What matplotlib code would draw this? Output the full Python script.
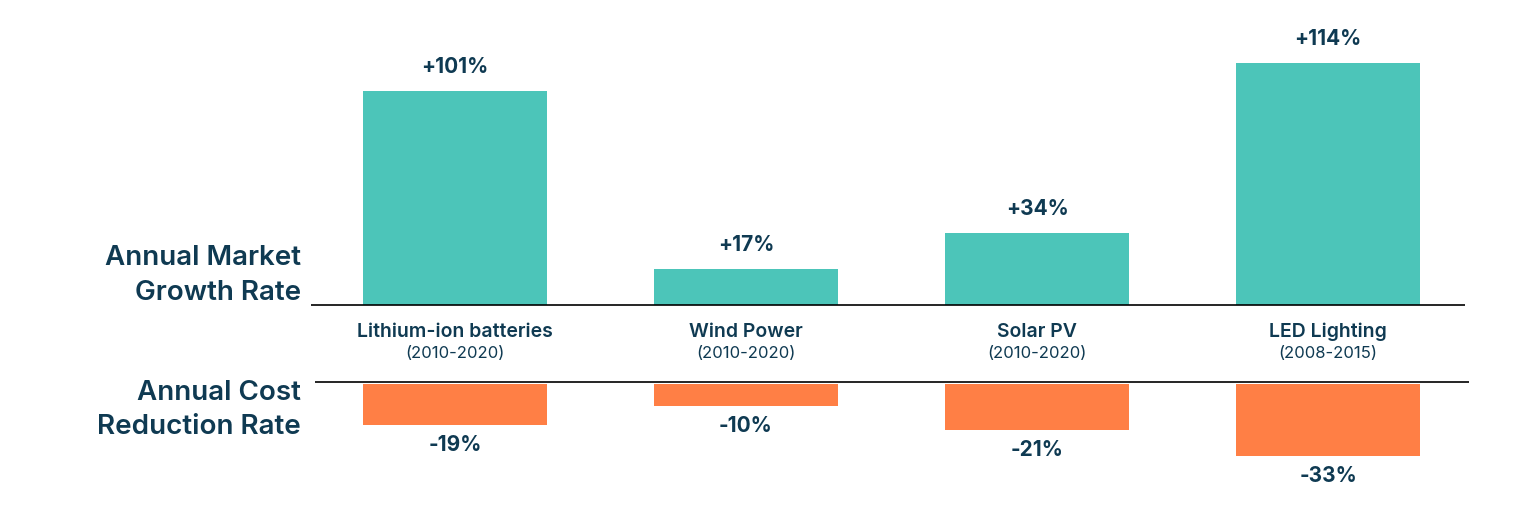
import matplotlib.pyplot as plt
import matplotlib.transforms as mtransforms
import numpy as np

# Data
categories = ['Lithium-ion batteries', 'Wind Power', 'Solar PV', 'LED Lighting']
periods = ['(2010-2020)', '(2010-2020)', '(2010-2020)', '(2008-2015)']
growth = [101, 17, 34, 114]
cost_reduction = [-19, -10, -21, -33]

teal = '#4cc5b9'
orange = '#ff7f45'
navy = '#0f3a52'

plt.rcParams['font.family'] = ['Inter', 'DejaVu Sans']

W, H = 1536, 524
fig = plt.figure(figsize=(W / 100, H / 100), dpi=100)

def px_rect(left, top, right, bottom):
    return [left / W, 1 - bottom / H, (right - left) / W, (bottom - top) / H]

x = np.arange(len(categories))
xlim = ((300 - 455) / 291, (1480 - 455) / 291)

# Top panel: market growth
ax1 = fig.add_axes(px_rect(300, 20, 1480, 310))
ax1.bar(x, growth, width=0.63, color=teal)
ax1.hlines(0, (311 - 455) / 291, (1465 - 455) / 291, color='black', lw=1.2)
ax1.set_xlim(*xlim)
ax1.set_ylim(-5 / 2.12, 285 / 2.12)
for xi, v in zip(x, growth):
    ax1.annotate(f'+{v}%', (xi, v), xytext=(0, 17.5), textcoords='offset points',
                 ha='center', va='center', fontsize=15, fontweight='bold', color=navy)
ax1.axis('off')

# Bottom panel: cost reduction
ax2 = fig.add_axes(px_rect(300, 375, 1480, 500))
ax2.bar(x, cost_reduction, width=0.63, color=orange)
ax2.hlines(0.7, (315 - 455) / 291, (1469 - 455) / 291, color='black', lw=1.2)
ax2.set_xlim(*xlim)
ax2.set_ylim(-116.5 / 2.2, 8.5 / 2.2)
for xi, v in zip(x, cost_reduction):
    ax2.annotate(f'{v}%', (xi, v), xytext=(0, -14.5), textcoords='offset points',
                 ha='center', va='center', fontsize=15, fontweight='bold', color=navy)
ax2.axis('off')

# Category labels between the panels
trans = mtransforms.blended_transform_factory(ax1.transData, fig.transFigure)
for xi, name, per in zip(x, categories, periods):
    ax1.text(xi, 1 - 332 / H, name, transform=trans, ha='center', va='center',
             fontsize=14, fontweight='semibold', color=navy)
    ax1.text(xi, 1 - 354 / H, per, transform=trans, ha='center', va='center',
             fontsize=12, fontweight='normal', color=navy)

# Row titles on the left
for txt, y in [('Annual Market', 258), ('Growth Rate', 293),
               ('Annual Cost', 393), ('Reduction Rate', 427)]:
    fig.text(301 / W, 1 - y / H, txt, ha='right', va='center',
             fontsize=20, fontweight='semibold', color=navy)

fig.savefig('out.png', dpi=100, facecolor='white')
